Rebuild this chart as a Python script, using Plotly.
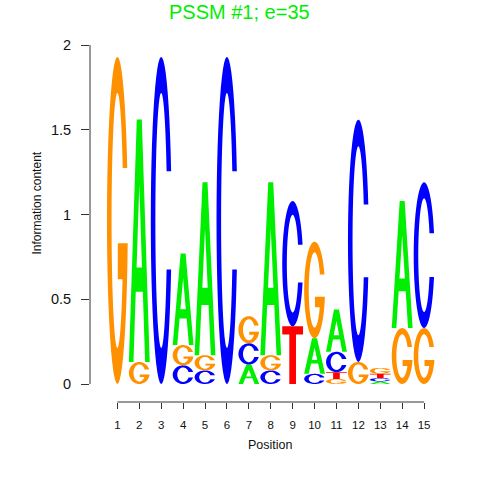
import math
import plotly.graph_objects as go

positions = list(range(1, 16))
A = [0, 1.43, 0, 0.54, 1.02, 0, 0.115, 1.02, 0, 0.21, 0.25, 0, 0.015, 0.75, 0]
C = [0, 0, 1.93, 0.11, 0.08, 1.93, 0.125, 0.08, 0.74, 0.06, 0.12, 1.43, 0.02, 0, 0.86]
G = [1.93, 0.13, 0, 0.12, 0.09, 0, 0.16, 0.09, 0, 0.57, 0.03, 0.13, 0.035, 0.33, 0.33]
T = [0, 0, 0, 0, 0, 0, 0, 0, 0.34, 0, 0.04, 0, 0.025, 0, 0]
y_ticks = [0, 0.5, 1, 1.5, 2]
y_tick_labels = ["0", "0.5", "1", "1.5", "2"]
title_text = "PSSM #1; e=35"

colors = {"A": "#00EE00", "C": "#0000FF", "G": "#FF9000", "T": "#FF0000"}


def arc(cx, cy, rx, ry, a0, a1, n=48):
    pts = []
    for i in range(n + 1):
        a = math.radians(a0 + (a1 - a0) * i / n)
        pts.append((cx + rx * math.cos(a), cy + ry * math.sin(a)))
    return pts


def unit_glyph(letter):
    if letter == "A":
        outer = [(0, 0), (0.22, 0), (0.33, 0.29), (0.67, 0.29), (0.78, 0),
                 (1, 0), (0.62, 1), (0.38, 1)]
        hole = [(0.37, 0.39), (0.5, 0.73), (0.63, 0.39)]
        return [outer, hole]
    if letter == "T":
        return [[(0, 1), (1, 1), (1, 0.86), (0.66, 0.86), (0.66, 0),
                 (0.34, 0), (0.34, 0.86), (0, 0.86)]]
    rxo, ryo, rxi, ryi = 0.5, 0.5, 0.28, 0.39
    if letter == "C":
        ao = math.degrees(math.asin(0.15 / ryo))
        ai = math.degrees(math.asin(0.15 / ryi))
        pts = arc(0.5, 0.5, rxo, ryo, ao, 360 - ao)
        pts += arc(0.5, 0.5, rxi, ryi, 360 - ai, ai)
        return [pts]
    # G
    ao = math.degrees(math.asin(0.16 / ryo))
    ai = math.degrees(math.asin(0.16 / ryi))
    pts = arc(0.5, 0.5, rxo, ryo, ao, 352)
    yb = 0.5 + ryo * math.sin(math.radians(352))
    pts += [(0.52, yb), (0.52, 0.32)]
    phi = math.degrees(math.asin(-0.18 / ryi))
    pts += arc(0.5, 0.5, rxi, ryi, phi, -360 + ai)
    return [pts]


def glyph_path(letter, x0, x1, y0, y1):
    parts = []
    for poly in unit_glyph(letter):
        coords = [(x0 + (x1 - x0) * u, y0 + (y1 - y0) * v) for u, v in poly]
        s = "M " + " L ".join(f"{x:.5f},{y:.5f}" for x, y in coords) + " Z"
        parts.append(s)
    return " ".join(parts)


shapes = []
half = 0.475
for i, p in enumerate(positions):
    col = [("A", A[i]), ("C", C[i]), ("G", G[i]), ("T", T[i])]
    col = sorted([c for c in col if c[1] > 0], key=lambda c: c[1])
    base = 0.0
    for letter, h in col:
        shapes.append(dict(type="path", xref="x", yref="y",
                           path=glyph_path(letter, p - half, p + half, base, base + h),
                           fillcolor=colors[letter], line=dict(width=0),
                           fillrule="evenodd", layer="above"))
        base += h

# axis lines
shapes.append(dict(type="line", xref="paper", yref="y", x0=0, x1=0, y0=0, y1=2,
                   line=dict(color="#333333", width=1)))
shapes.append(dict(type="line", xref="x", yref="paper", x0=1, x1=15, y0=0, y1=0,
                   line=dict(color="#333333", width=1)))

fig = go.Figure()
fig.add_trace(go.Scatter(x=positions, y=[0] * len(positions), mode="markers",
                         marker=dict(opacity=0), hoverinfo="skip", showlegend=False))

font = "Liberation Sans, Arial, sans-serif"
fig.update_layout(
    width=480, height=480,
    margin=dict(l=90, r=34, t=45, b=78),
    paper_bgcolor="white", plot_bgcolor="white",
    shapes=shapes,
    showlegend=False,
    xaxis=dict(range=[-0.25, 16.0], tickvals=positions, ticktext=[str(p) for p in positions],
               ticks="outside", ticklen=6, tickcolor="#333333", showgrid=False,
               ticklabelstandoff=6,
               zeroline=False, showline=False, tickfont=dict(family=font, size=11.5, color="#111111")),
    yaxis=dict(range=[-0.1062, 2.0], tickvals=y_ticks, ticktext=y_tick_labels,
               ticks="outside", ticklen=8, tickcolor="#333333", showgrid=False,
               ticklabelstandoff=7,
               zeroline=False, showline=False, tickfont=dict(family=font, size=14.5, color="#111111")),
    annotations=[
        dict(text=title_text, xref="paper", yref="paper", x=0.42, y=1.0924,
             xanchor="center", yanchor="middle", showarrow=False,
             font=dict(family=font, size=20, color="#00EE00")),
        dict(text="Position", xref="x", yref="paper", x=8, y=-0.1204,
             xanchor="center", yanchor="middle", showarrow=False,
             font=dict(family=font, size=12.5, color="#111111")),
        dict(text="Information content", xref="paper", yref="y", x=-0.149, y=1.07,
             xanchor="center", yanchor="middle", showarrow=False, textangle=-90,
             font=dict(family=font, size=12, color="#111111")),
    ],
)

fig.write_html("out.html", config={"displayModeBar": False},
               post_script="document.body.style.margin='0px';")
